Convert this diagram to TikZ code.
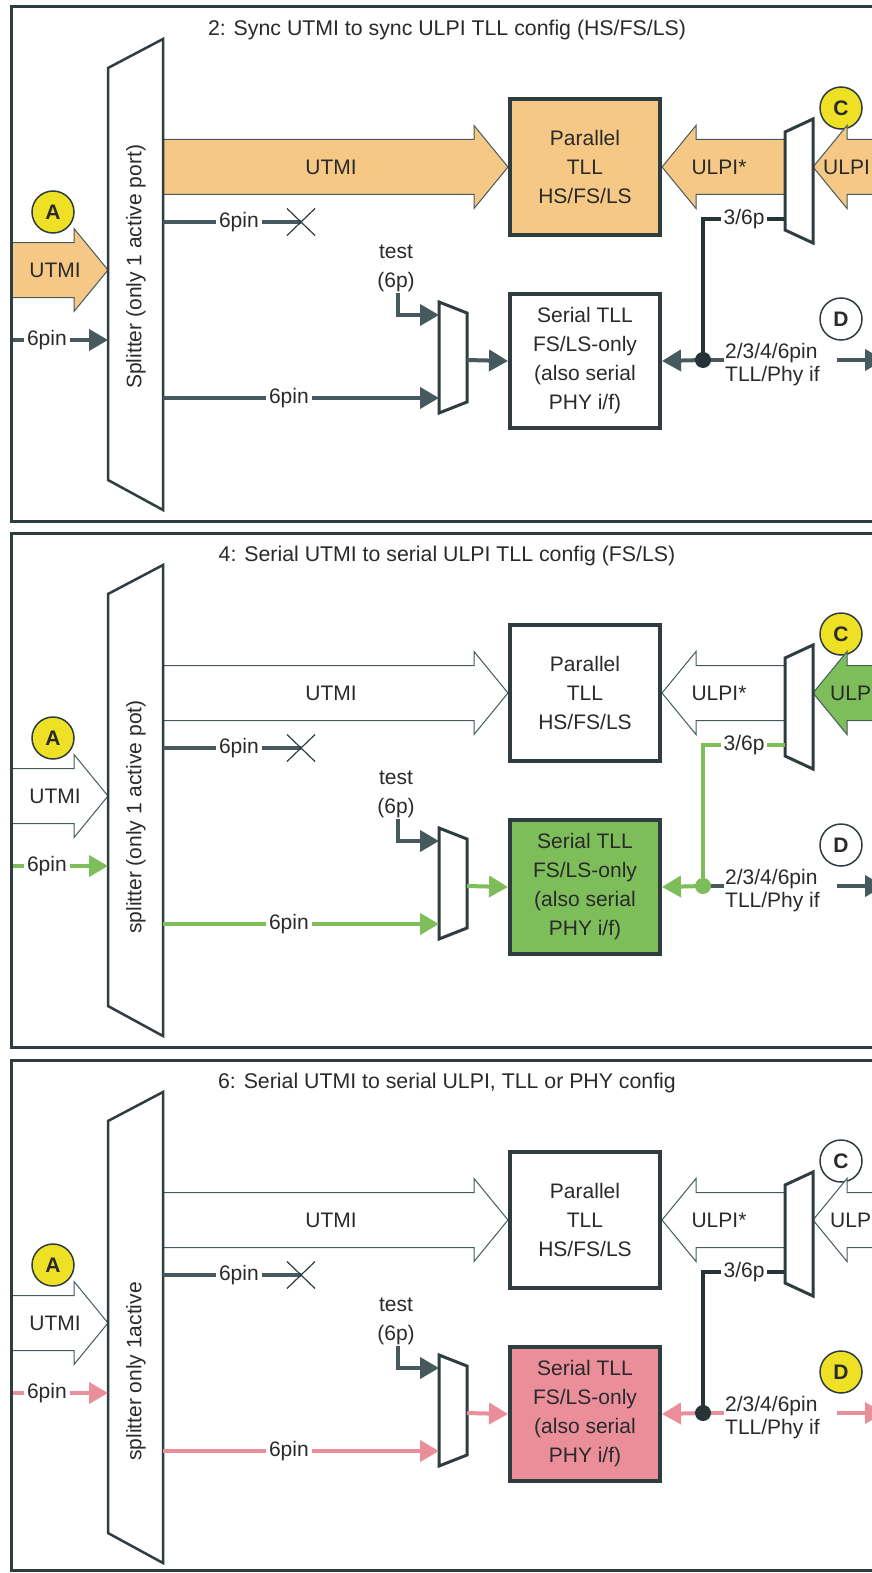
\documentclass[tikz,border=0pt]{standalone}
\usepackage{fontspec}
\setmainfont{Liberation Sans}
\usetikzlibrary{arrows.meta,calc}
\definecolor{border}{HTML}{2F3C40}
\definecolor{slate}{HTML}{465A5E}
\definecolor{darkln}{HTML}{263337}
\definecolor{txt}{HTML}{2A2A2A}
\definecolor{orng}{HTML}{F5C886}
\definecolor{grn}{HTML}{7DBD5A}
\definecolor{pnk}{HTML}{EA8E9A}
\definecolor{ylw}{HTML}{EEE125}
\tikzset{
  lbl/.style={font=\fontsize{21}{24}\selectfont, text=txt, inner sep=1pt},
  lblw/.style={lbl, fill=white, inner sep=3pt},
  blk/.style={draw=slate, line width=1pt, line join=miter},
  boxst/.style={draw=border, line width=4pt, minimum width=150pt, align=center,
    font=\fontsize{21}{29}\selectfont, text=txt, inner sep=0pt},
  sigline/.style={line width=4pt},
  sig/.style={sigline, -{Triangle[length=19pt,width=21pt]}},
  linkln/.style={line width=3.5pt},
  muxst/.style={draw=border, line width=3pt, fill=white, line join=miter},
  splst/.style={draw=border, line width=2.5pt, fill=white, line join=miter},
  tag/.style={circle, draw=border, line width=1.5pt, minimum size=42pt, inner sep=0pt,
    font=\fontsize{21}{24}\selectfont\bfseries, text=txt},
  xmark/.style={draw=border, line width=1.2pt},
  frame/.style={draw=border, line width=3pt},
}
% right-pointing block arrow: start x, tip x, centre y, fill
\newcommand\barR[4]{\draw[blk, fill=#4] (#1,{#3-27.5}) -- ({#2-34},{#3-27.5}) -- ({#2-34},{#3-41.5}) -- (#2,#3) -- ({#2-34},{#3+41.5}) -- ({#2-34},{#3+27.5}) -- (#1,{#3+27.5}) -- cycle;}
% left-pointing block arrow
\newcommand\barL[4]{\draw[blk, fill=#4] (#1,{#3-27.5}) -- ({#2+34},{#3-27.5}) -- ({#2+34},{#3-41.5}) -- (#2,#3) -- ({#2+34},{#3+41.5}) -- ({#2+34},{#3+27.5}) -- (#1,{#3+27.5}) -- cycle;}

\newcommand\drawpanel[2]{%
\begin{scope}[shift={(0,#1)}, name prefix=#2-]
  % title
  \node[lbl, font=\fontsize{21.3}{24}\selectfont] (title) at (447,30) {\ptitle};
  % tags (drawn before arrows)
  \node[tag, fill=ylw] (A) at (53,212) {A};
  \node[tag, fill=\cfill] (C) at (841,108) {C};
  \node[tag, fill=\dfill] (D) at (841,319) {D};
  % block arrows
  \barR{11}{108}{270}{\bigfill}
  \barR{163}{508}{167}{\bigfill}
  \barL{785}{662}{167}{\bigfill}
  \barL{910}{813}{167}{\ulpifill}
  \node[lbl] (utmiin) at (55,270) {UTMI};
  \node[lbl] (utmi) at (331,167) {UTMI};
  \node[lbl] (ulpis) at (719,167) {ULPI*};
  \node[lbl, anchor=west] (ulpi) at (\ulpix,167) {ULPI};
  % boxes
  \node[boxst, fill=\parfill, minimum height=136.5pt] (par) at (585,167) {Parallel\\TLL\\HS/FS/LS};
  \node[boxst, fill=\serfill, minimum height=134.5pt] (ser) at (585,361) {Serial TLL\\FS/LS-only\\(also serial\\PHY i/f)};
  % splitter
  \draw[splst] (108,68) -- (163,39) -- (163,510) -- (108,480) -- cycle;
  \node[lbl, rotate=90, anchor=west] (spltxt) at (136,\splity) {\splittext};
  % muxes
  \draw[muxst] (439,302) -- (467,313) -- (467,402) -- (439,413) -- cycle;
  \draw[muxst] (785,132) -- (813,119) -- (813,243) -- (785,230) -- cycle;
  % named points
  \coordinate (in6) at (11,340);
  \coordinate (splin) at (108,340);
  \coordinate (x6s) at (163,222);
  \coordinate (xend) at (301,222);
  \coordinate (b6s) at (163,398);
  \coordinate (muxb) at (439,398);
  \coordinate (muxt) at (439,315);
  \coordinate (muxo) at (467,360);
  \coordinate (rmux) at (785,219);
  \coordinate (bend) at (703,219);
  \coordinate (dstart) at (837,360);
  \coordinate (dend) at (884,360);
  % signal lines
  \draw[sig, draw=\sigcol] (in6) -- node[lblw, pos=0.37] (l6in) {6pin} (splin);
  \draw[sigline, draw=slate] (x6s) -- node[lblw, pos=0.55] (l6x) {6pin} (xend);
  \draw[xmark] ([shift={(-14,-13.5)}]xend) -- ([shift={(14,13.5)}]xend)
               ([shift={(-14,13.5)}]xend) -- ([shift={(14,-13.5)}]xend);
  \draw[sig, draw=\sigcol] (b6s) -- node[lblw, pos=0.456] (l6b) {6pin} (muxb);
  \node[lbl, align=center, font=\fontsize{21}{29}\selectfont] (test) at (396,268.5) {test\\(6p)};
  \draw[sig, draw=slate] ([xshift=2pt]test.south) |- (muxt);
  \draw[sig, draw=\sigcol] (muxo) -- (ser.west);
  % junction
  \node[circle, inner sep=0pt, minimum size=16pt] (j) at (703,360) {};
  \draw[linkln, draw=\linkcol] (rmux) -- node[lblw] (l36) {3/6p} (bend) -- (j.center);
  \draw[sig, draw=\sigcol] (j.center) -- (ser.east);
  \node[lbl, align=left, anchor=west, font=\fontsize{21}{23}\selectfont] (outl) at (724,364.5) {2/3/4/6pin\\TLL/Phy if};
  \draw[sigline, draw=\outcol] (j.center) -- (outl.west |- j);
  \draw[sig, draw=\outcol] (dstart) -- (dend);
  \fill[\dotcol] (j) circle (8);
  % frame
  \draw[frame] (11,7) rectangle (920,\pbottom);
\end{scope}}

\begin{document}
\begin{tikzpicture}[x=1pt,y=-1pt]
\useasboundingbox (0,0) rectangle (872,1573);
\clip (0,0) rectangle (872,1573);
\fill[white] (0,0) rectangle (872,1573);
% panel 1
\def\ptitle{2: Sync UTMI to sync ULPI TLL config (HS/FS/LS)}
\def\splittext{Splitter (only 1 active port)}
\def\splity{390}
\def\bigfill{orng}\def\ulpifill{orng}\def\parfill{orng}\def\serfill{white}
\def\sigcol{slate}\def\linkcol{darkln}\def\dotcol{darkln}\def\outcol{slate}
\def\cfill{ylw}\def\dfill{white}\def\ulpix{822}\def\pbottom{521}
\drawpanel{0}{p1}
% panel 2
\def\ptitle{4: Serial UTMI to serial ULPI TLL config (FS/LS)}
\def\splittext{splitter (only 1 active pot)}
\def\splity{409}
\def\bigfill{white}\def\ulpifill{grn}\def\parfill{white}\def\serfill{grn}
\def\sigcol{grn}\def\linkcol{grn}\def\dotcol{grn}\def\outcol{slate}
\def\cfill{ylw}\def\dfill{white}\def\ulpix{829}\def\pbottom{521}
\drawpanel{526}{p2}
% panel 3
\def\ptitle{6: Serial UTMI to serial ULPI, TLL or PHY config}
\def\splittext{splitter only 1active}
\def\splity{409}
\def\bigfill{white}\def\ulpifill{white}\def\parfill{white}\def\serfill{pnk}
\def\sigcol{pnk}\def\linkcol{darkln}\def\dotcol{darkln}\def\outcol{pnk}
\def\cfill{white}\def\dfill{ylw}\def\ulpix{829}\def\pbottom{517}
\drawpanel{1053}{p3}
\end{tikzpicture}
\end{document}
